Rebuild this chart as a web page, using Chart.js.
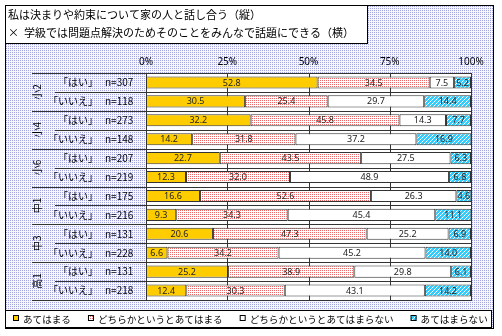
<!DOCTYPE html>
<html>
<head>
<meta charset="utf-8">
<script src="https://cdn.jsdelivr.net/npm/chart.js@4.4.1/dist/chart.umd.min.js"></script>
<style>
  html, body { margin: 0; padding: 0; background: #fff; }
  #wrap { width: 502px; height: 336px; }
</style>
</head>
<body>
<div id="wrap"><canvas id="chart" width="502" height="336"></canvas></div>
<script>
// データ
const titleLines = ['私は決まりや約束について家の人と話し合う（縦）', '×  学級では問題点解決のためそのことをみんなで話題にできる（横）'];
const groups = ['小2', '小4', '小6', '中1', '中3', '高1'];
const answers = ['「はい」', '「いいえ」'];
const counts = [307, 118, 273, 148, 207, 219, 175, 216, 131, 228, 131, 218];
const seriesNames = ['あてはまる', 'どちらかというとあてはまる', 'どちらかというとあてはまらない', 'あてはまらない'];
const applies = [52.8, 30.5, 32.2, 14.2, 22.7, 12.3, 16.6, 9.3, 20.6, 6.6, 25.2, 12.4];
const ratherApplies = [34.5, 25.4, 45.8, 31.8, 43.5, 32.0, 52.6, 34.3, 47.3, 34.2, 38.9, 30.3];
const ratherNot = [7.5, 29.7, 14.3, 37.2, 27.5, 48.9, 26.3, 45.4, 25.2, 45.2, 29.8, 43.1];
const notApplies = [5.2, 14.4, 7.7, 16.9, 6.3, 6.8, 4.6, 11.1, 6.9, 14.0, 6.1, 14.2];
const xTicks = [0, 25, 50, 75, 100];

const canvas = document.getElementById('chart');
const ctx = canvas.getContext('2d');
const JP = '"Noto Sans CJK JP", "Noto Sans", sans-serif';
const LINE = '#333';

function makePattern(size, paint) {
    const c = document.createElement('canvas');
    c.width = size; c.height = size;
    const g = c.getContext('2d');
    paint(g, size);
    return ctx.createPattern(c, 'repeat');
}

// 背景・塗りのパターン
const bgPattern = makePattern(2, (g) => {
    g.fillStyle = '#f6f6fd'; g.fillRect(0, 0, 2, 2);
    g.fillStyle = '#a4a4dc'; g.fillRect(0, 0, 1, 1);
});
const pinkPattern = makePattern(2, (g) => {
    g.fillStyle = '#fff'; g.fillRect(0, 0, 2, 2);
    g.fillStyle = '#ec6a6a'; g.fillRect(0, 0, 1, 1);
});
const cyanPattern = makePattern(4, (g) => {
    for (let x = 0; x < 4; x++) {
        for (let y = 0; y < 4; y++) {
            g.fillStyle = (x + y) % 4 === 3 ? '#ffffff' : '#33ccff';
            g.fillRect(x, y, 1, 1);
        }
    }
});
const fills = ['#ffcc00', pinkPattern, '#ffffff', cyanPattern];
const seriesData = [applies, ratherApplies, ratherNot, notApplies];

function hLine(c, x1, x2, y) {
    const yy = Math.round(y) + 0.5;
    c.beginPath(); c.moveTo(x1, yy); c.lineTo(x2, yy); c.stroke();
}
function vLine(c, x, y1, y2) {
    const xx = Math.round(x) + 0.5;
    c.beginPath(); c.moveTo(xx, y1); c.lineTo(xx, y2); c.stroke();
}

const framePlugin = {
    id: 'frame',
    beforeDraw(chart) {
        const c = chart.ctx;
        const area = chart.chartArea;
        const y = chart.scales.y;
        c.save();
        c.fillStyle = '#fff';
        c.fillRect(0, 0, chart.width, chart.height);
        // 外枠
        c.fillStyle = bgPattern;
        c.fillRect(6, 5, 487, 323);
        c.strokeStyle = '#000';
        c.lineWidth = 1;
        c.strokeRect(5.5, 5.5, 488, 323);
        // タイトル
        c.fillStyle = '#fff';
        c.fillRect(6, 6, 361, 38);
        c.strokeRect(5.5, 5.5, 362, 38);
        c.fillStyle = '#000';
        c.font = '11px ' + JP;
        c.textBaseline = 'middle';
        c.textAlign = 'left';
        c.fillText(titleLines[0], 8, 15);
        c.fillText(titleLines[1], 8, 33);
        // プロット領域
        c.fillStyle = '#fff';
        c.fillRect(area.left, area.top, area.right - area.left, area.bottom - area.top);
        // 凡例
        c.fillStyle = '#fff';
        c.fillRect(6, 310, 486, 18);
        c.strokeStyle = '#000';
        c.strokeRect(5.5, 310.5, 486, 17);
        c.font = '9.6px ' + JP;
        let lx = 13;
        seriesNames.forEach((name, i) => {
            c.fillStyle = fills[i];
            c.fillRect(lx, 315, 6, 6);
            c.strokeStyle = '#000';
            c.strokeRect(lx + 0.5, 315.5, 5, 5);
            c.fillStyle = '#000';
            c.fillText(name, lx + 10, 319);
            lx += 10 + c.measureText(name).width + 17;
        });
        // 左側の見出し
        counts.forEach((n, i) => {
            const cy = y.getPixelForValue(i);
            c.fillStyle = '#000';
            c.font = '10px ' + JP;
            c.textAlign = 'right';
            c.fillText(answers[i % 2], 98, cy);
            c.textAlign = 'left';
            c.fillText('n=' + n, 105, cy);
        });
        groups.forEach((g, gi) => {
            const cy = (y.getPixelForValue(gi * 2) + y.getPixelForValue(gi * 2 + 1)) / 2;
            c.save();
            c.translate(37, cy);
            c.rotate(-Math.PI / 2);
            c.textAlign = 'center';
            c.font = '10px ' + JP;
            c.fillText(g, 0, 0);
            c.restore();
        });
        c.restore();
    },
    beforeDatasetsDraw(chart) {
        const c = chart.ctx;
        const area = chart.chartArea;
        const x = chart.scales.x;
        const y = chart.scales.y;
        c.save();
        c.strokeStyle = LINE;
        c.lineWidth = 1;
        xTicks.forEach(v => vLine(c, x.getPixelForValue(v), area.top, area.bottom));
        for (let i = 0; i <= counts.length; i++) {
            let by;
            if (i === 0) by = area.top;
            else if (i === counts.length) by = area.bottom;
            else by = (y.getPixelForValue(i - 1) + y.getPixelForValue(i)) / 2;
            hLine(c, i % 2 === 0 ? 32 : 55, area.right + 1, by);
        }
        c.restore();
    },
    afterDatasetsDraw(chart) {
        const c = chart.ctx;
        c.save();
        c.fillStyle = '#222';
        c.font = '9px "Noto Sans", sans-serif';
        c.textAlign = 'center';
        c.textBaseline = 'middle';
        chart.data.datasets.forEach((ds, di) => {
            chart.getDatasetMeta(di).data.forEach((bar, i) => {
                const p = bar.getProps(['x', 'base', 'y'], true);
                c.fillText(ds.data[i].toFixed(1), (p.x + p.base) / 2, p.y + 0.5);
            });
        });
        c.restore();
    }
};

new Chart(ctx, {
    type: 'bar',
    data: {
        labels: counts.map((n, i) => groups[Math.floor(i / 2)] + answers[i % 2]),
        datasets: seriesData.map((d, i) => ({
            label: seriesNames[i],
            data: d,
            backgroundColor: fills[i],
            borderColor: '#333',
            borderWidth: 1,
            borderSkipped: false,
            barPercentage: 0.64,
            categoryPercentage: 1
        }))
    },
    options: {
        indexAxis: 'y',
        responsive: false,
        animation: false,
        layout: { padding: { left: 146, right: 31, top: 51, bottom: 36 } },
        scales: {
            x: {
                stacked: true,
                position: 'top',
                min: 0,
                max: 100,
                grid: { display: false, drawTicks: false },
                border: { display: false },
                ticks: {
                    stepSize: 25,
                    padding: 5,
                    color: '#000',
                    font: { size: 10, family: '"Noto Sans", sans-serif' },
                    callback: (v) => v + '%'
                }
            },
            y: { stacked: true, display: false }
        },
        plugins: {
            legend: { display: false },
            tooltip: { enabled: false }
        }
    },
    plugins: [framePlugin]
});
</script>
</body>
</html>
